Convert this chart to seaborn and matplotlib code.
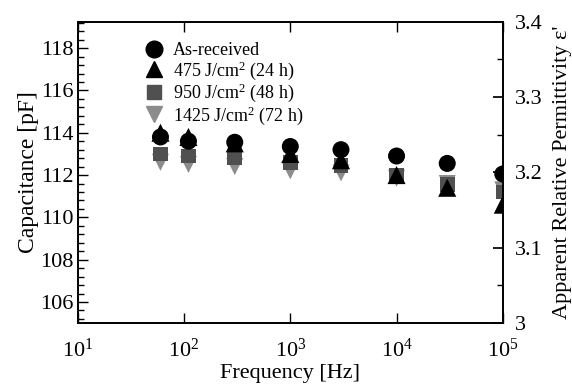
import matplotlib
matplotlib.use("Agg")
import matplotlib.pyplot as plt
import seaborn as sns
import pandas as pd
from matplotlib.ticker import MultipleLocator, FuncFormatter, LogLocator, NullLocator
from matplotlib.lines import Line2D

# ---- data ----
freq = [60, 110, 300, 1000, 3000, 10000, 30000, 100000]
as_received = [113.8, 113.6, 113.55, 113.35, 113.2, 112.9, 112.55, 112.05]
dose_475 = [114.0, 113.8, 113.5, 113.0, 112.7, 112.0, 111.4, 110.6]
dose_950 = [113.0, 112.9, 112.8, 112.6, 112.45, 112.0, 111.55, 111.2]
dose_1425 = [112.6, 112.5, 112.4, 112.2, 112.1, 111.85, 111.6, 111.3]
labels = ["As-received", "475 J/cm$^2$ (24 h)", "950 J/cm$^2$ (48 h)", "1425 J/cm$^2$ (72 h)"]

sns.set_theme(style="ticks")
plt.rcParams["font.family"] = ["Liberation Serif", "DejaVu Serif"]
plt.rcParams["mathtext.fontset"] = "custom"
plt.rcParams["mathtext.rm"] = "Liberation Serif"
plt.rcParams["mathtext.it"] = "Liberation Serif:italic"
plt.rcParams["mathtext.bf"] = "Liberation Serif:bold"
for k in ["text.color", "axes.labelcolor", "xtick.color", "ytick.color", "axes.edgecolor"]:
    plt.rcParams[k] = "black"

fig = plt.figure(figsize=(5.72, 3.87), dpi=100)
ax = fig.add_axes([0.136, 0.165, 0.743, 0.779])

series = [
    (dose_1425, labels[3], "v", "#8c8c8c", 150),
    (dose_950, labels[2], "s", "#505050", 110),
    (dose_475, labels[1], "^", "black", 170),
    (as_received, labels[0], "o", "black", 150),
]
for vals, lab, mk, col, sz in series:
    df = pd.DataFrame({"f": freq, "C": vals})
    sns.scatterplot(data=df, x="f", y="C", marker=mk, color=col, s=sz,
                    edgecolor="none", ax=ax, label=lab, legend=False)

ax.set_xscale("log")
ax.set_xlim(10, 1e5)
ax.set_ylim(105, 119.25)
ax.yaxis.set_major_locator(MultipleLocator(2))
ax.yaxis.set_minor_locator(MultipleLocator(0.4))
ax.xaxis.set_major_locator(LogLocator(base=10, numticks=10))
ax.xaxis.set_minor_locator(NullLocator())
ax.tick_params(axis="both", which="both", direction="in", labelsize=16, width=1)
ax.tick_params(axis="y", which="major", length=7, pad=3)
ax.tick_params(axis="y", which="minor", length=4)
ax.tick_params(axis="x", which="major", length=7, top=True, pad=11)
ax.set_xlabel("Frequency [Hz]", fontsize=16, labelpad=2)
ax.set_ylabel("Capacitance [pF]", fontsize=17, labelpad=1)
for sp in ax.spines.values():
    sp.set_linewidth(1.2)
    sp.set_color("black")

ax2 = ax.twinx()
ax2.set_ylim(3.0, 3.4)
ax2.yaxis.set_major_locator(MultipleLocator(0.1))
ax2.yaxis.set_minor_locator(MultipleLocator(0.05))
ax2.yaxis.set_major_formatter(FuncFormatter(lambda v, p: "%g" % round(v, 2)))
ax2.tick_params(axis="y", which="both", direction="in", labelsize=16, pad=9)
ax2.tick_params(axis="y", which="major", length=7)
ax2.tick_params(axis="y", which="minor", length=4)
ax2.set_ylabel("Apparent Relative Permittivity ε'", fontsize=16, labelpad=7)

# legend
leg_items = [
    Line2D([], [], ls="none", marker="o", color="black", markersize=12),
    Line2D([], [], ls="none", marker="^", color="black", markersize=12),
    Line2D([], [], ls="none", marker="s", color="#505050", markersize=10),
    Line2D([], [], ls="none", marker="v", color="#8c8c8c", markersize=11),
]
ax.legend(leg_items, labels, loc="upper left", bbox_to_anchor=(0.135, 0.962),
          frameon=False, fontsize=13, handletextpad=0.5, labelspacing=0.0,
          borderpad=0, handlelength=1.1)

fig.savefig("out.png", dpi=100)
